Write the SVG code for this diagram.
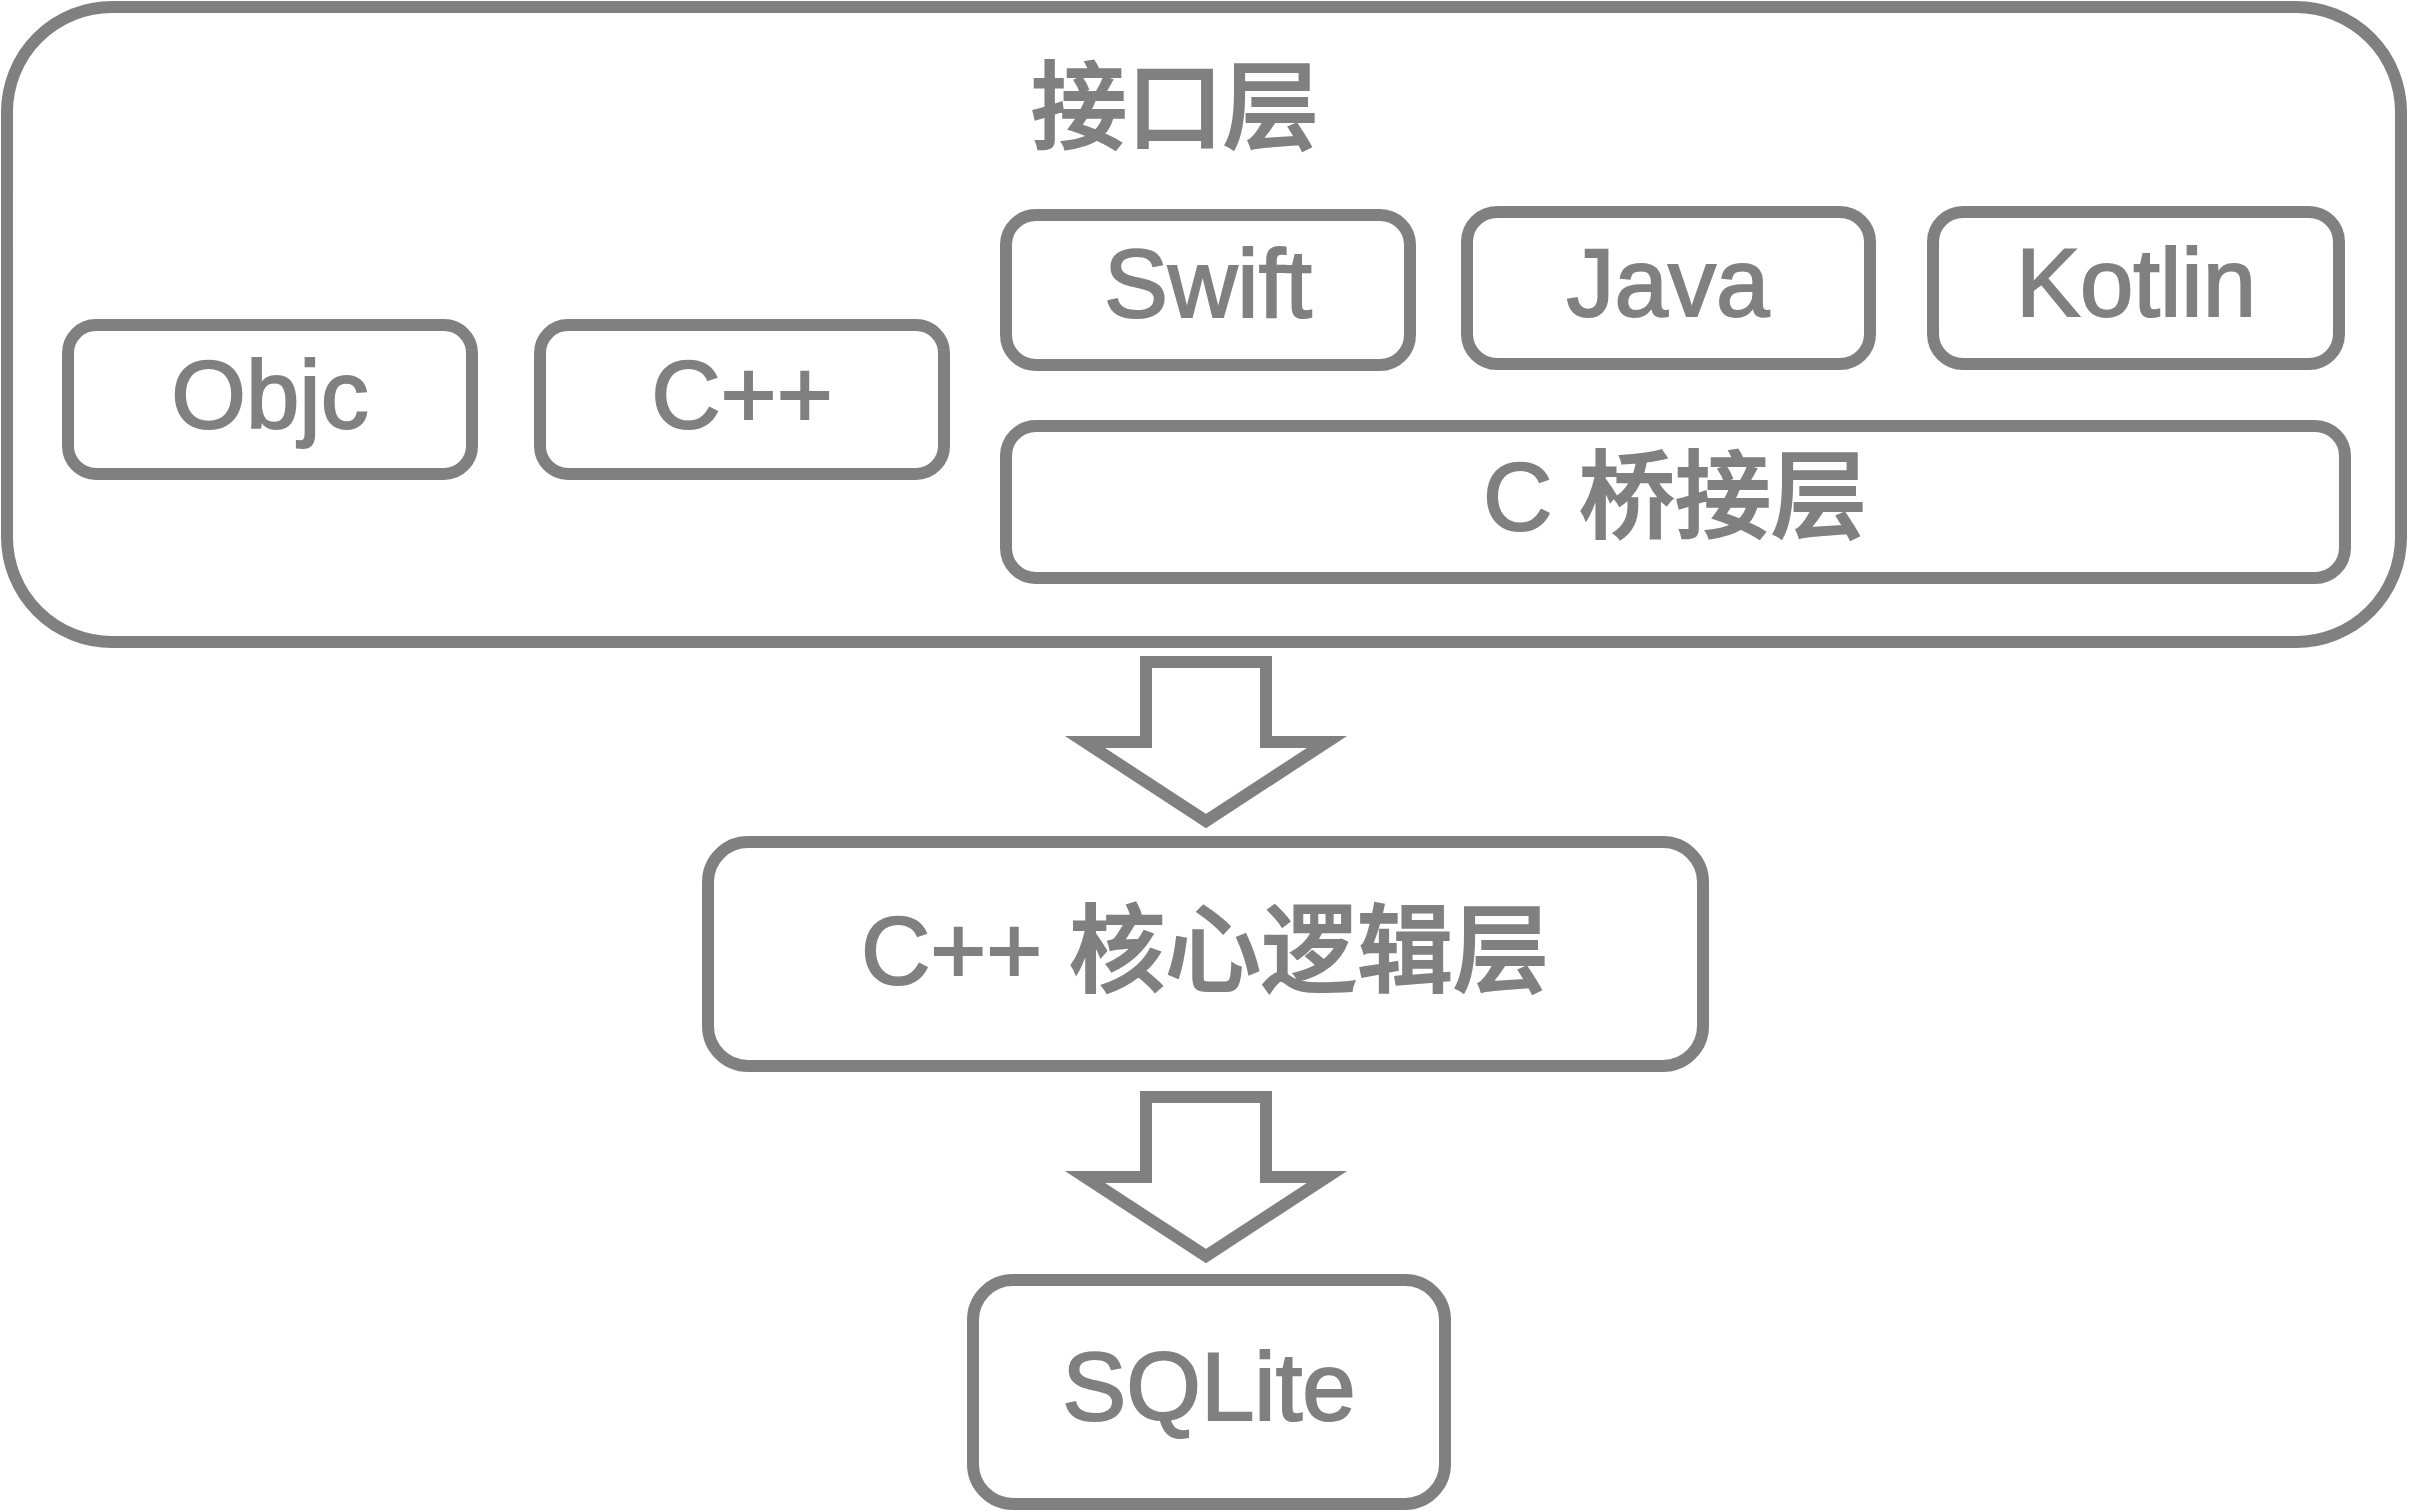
<svg xmlns="http://www.w3.org/2000/svg" width="2410" height="1512" viewBox="0 0 2410 1512">
<style>
.box{fill:#ffffff;stroke:#808080;stroke-width:12}
.arrow{fill:#ffffff;stroke:#808080;stroke-width:12;stroke-linejoin:miter;stroke-miterlimit:10}
text{font-family:"Liberation Sans","Noto Sans CJK SC",sans-serif;font-size:96px;fill:#808080;stroke:#808080;stroke-width:2;text-anchor:middle}
.cjk{font-weight:500}
</style>
<rect width="2410" height="1512" fill="#ffffff"/>
<g id="interface-layer">
<rect class="box" x="7" y="7" width="2394" height="635" rx="105" ry="105"/>
<text class="cjk" x="1175" y="141">接口层</text>
</g>
<g id="objc">
<rect class="box" x="68" y="325" width="404" height="149" rx="28" ry="28"/>
<text x="270" y="428">Objc</text>
</g>
<g id="cpp">
<rect class="box" x="540" y="325" width="404" height="149" rx="28" ry="28"/>
<text x="742" y="428">C++</text>
</g>
<g id="swift">
<rect class="box" x="1006" y="215" width="404" height="150" rx="30" ry="30"/>
<text x="1208" y="317">Swift</text>
</g>
<g id="java">
<rect class="box" x="1467" y="212" width="403" height="152" rx="30" ry="30"/>
<text x="1668" y="316">Java</text>
</g>
<g id="kotlin">
<rect class="box" x="1933" y="212" width="406" height="152" rx="30" ry="30"/>
<text x="2136" y="316">Kotlin</text>
</g>
<g id="c-bridge">
<rect class="box" x="1006" y="426" width="1339" height="152" rx="30" ry="30"/>
<text x="1675" y="530">C <tspan class="cjk">桥接层</tspan></text>
</g>
<g id="core">
<rect class="box" x="708" y="842" width="995" height="224" rx="40" ry="40"/>
<text x="1205" y="984">C++ <tspan class="cjk">核心逻辑层</tspan></text>
</g>
<g id="sqlite">
<rect class="box" x="973" y="1280" width="472" height="224" rx="40" ry="40"/>
<text x="1209" y="1420">SQLite</text>
</g>
<g id="connectors">
<polygon class="arrow" points="1146,662 1266,662 1266,742 1327,742 1206,821 1085,742 1146,742"/>
<polygon class="arrow" points="1146,1097 1266,1097 1266,1177 1327,1177 1206,1256 1085,1177 1146,1177"/>
</g>
</svg>
